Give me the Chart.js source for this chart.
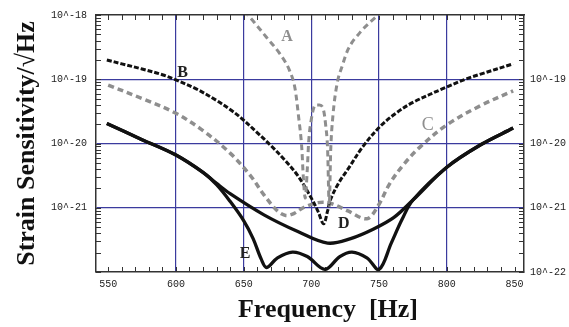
<!DOCTYPE html>
<html>
<head>
<meta charset="utf-8">
<title>Strain sensitivity vs frequency</title>
<script src="https://cdn.jsdelivr.net/npm/chart.js@4"></script>
<style>
  html, body { margin: 0; padding: 0; background: #fff; }
  canvas { display: block; }
</style>
</head>
<body>
<canvas id="sensChart" width="569" height="327"></canvas>
<script>
// curves: frequency in Hz, sensitivity as log10(strain/sqrt(Hz))
const freqA = [650, 653, 660, 667, 677, 684, 688, 690.5, 693, 694, 695.5, 697, 698, 700, 703, 706, 709, 710.5, 712, 713.2, 714.3, 716, 719, 723, 727, 736, 744, 752];
const expA  = [-17.95, -18.0, -18.17, -18.35, -18.61, -18.87, -19.15, -19.57, -20.09, -20.5, -20.85, -20.4, -19.98, -19.62, -19.4, -19.4, -19.48, -19.7, -20.09, -20.97, -20.1, -19.55, -19.07, -18.78, -18.54, -18.27, -18.1, -17.95];

const freqB = [549, 560, 575, 590, 600, 615, 630, 640, 648, 660, 670, 680, 690, 700, 705, 709, 712, 714, 720, 727, 738, 751, 763, 775, 800, 815, 825, 849];
const expB  = [-18.70, -18.76, -18.84, -18.93, -19.01, -19.15, -19.33, -19.47, -19.60, -19.83, -20.03, -20.25, -20.50, -20.85, -21.06, -21.25, -21.05, -20.88, -20.62, -20.40, -20.05, -19.73, -19.52, -19.36, -19.12, -18.99, -18.92, -18.76];

const freqC = [550, 575, 600, 620, 640, 655, 665, 675, 681, 687, 694, 705, 714, 727, 741, 749, 758, 768, 780, 800, 825, 849];
const expC  = [-19.09, -19.30, -19.53, -19.80, -20.15, -20.50, -20.80, -21.05, -21.12, -21.09, -21.00, -20.92, -20.93, -21.05, -21.17, -20.98, -20.62, -20.33, -20.06, -19.71, -19.41, -19.18];

const freqD = [549, 575, 600, 620, 630, 640, 665, 690, 712, 729, 746, 761, 775, 800, 825, 849];
const expD  = [-19.69, -19.94, -20.18, -20.45, -20.62, -20.78, -21.11, -21.37, -21.55, -21.48, -21.33, -21.15, -20.88, -20.37, -20.02, -19.76];

const freqE = [549, 575, 600, 620, 630, 640, 650, 657, 663, 667, 675, 686, 697, 710, 721, 730, 741, 750, 759, 767, 775, 800, 825, 849];
const expE  = [-19.69, -19.94, -20.18, -20.45, -20.64, -20.90, -21.20, -21.48, -21.80, -21.93, -21.78, -21.69, -21.76, -21.96, -21.76, -21.69, -21.78, -21.96, -21.55, -21.18, -20.88, -20.37, -20.02, -19.76];

const decadeExps = [-22, -21, -20, -19, -18];
const xTickValues = [550, 560, 570, 580, 590, 600, 610, 620, 630, 640, 650, 660, 670, 680, 690, 700, 710, 720, 730, 740, 750, 760, 770, 780, 790, 800, 810, 820, 830, 840, 850];
const xLabelStep = 50;

// curve letters, placed in data units
const letters = ['A', 'B', 'C', 'D', 'E'];
const letterFreq = [682, 605, 786, 724, 651];
const letterExp = [-18.34, -18.90, -19.71, -21.25, -21.71];

const BLUE = '#3b3b9e';
const GREY = '#8e8e8e';

function pts(fs, es) {
    return fs.map((f, i) => ({ x: f, y: Math.pow(10, es[i]) }));
}

function logTicks() {
    const t = [];
    for (let i = 0; i < decadeExps.length - 1; i++) {
        for (let k = 1; k < 10; k++) t.push({ value: k * Math.pow(10, decadeExps[i]) });
    }
    t.push({ value: Math.pow(10, decadeExps[decadeExps.length - 1]) });
    return t;
}

function decadeOf(v) {
    const l = Math.log10(v);
    return Math.abs(l - Math.round(l)) < 1e-6 ? Math.round(l) : null;
}

const innerTicks = {
    id: 'innerTicks',
    beforeDatasetsDraw(chart) {
        const { ctx, chartArea: a, scales } = chart;
        ctx.save();
        ctx.strokeStyle = '#333';
        ctx.lineWidth = 1;
        ctx.beginPath();
        scales.y.ticks.forEach(t => {
            const py = Math.round(scales.y.getPixelForValue(t.value)) + 0.5;
            ctx.moveTo(a.left, py); ctx.lineTo(a.left + 5, py);
            ctx.moveTo(a.right, py); ctx.lineTo(a.right - 5, py);
        });
        scales.x.ticks.forEach(t => {
            const px = Math.round(scales.x.getPixelForValue(t.value)) + 0.5;
            ctx.moveTo(px, a.bottom); ctx.lineTo(px, a.bottom - 5);
            ctx.moveTo(px, a.top); ctx.lineTo(px, a.top + 5);
        });
        ctx.stroke();
        ctx.restore();
    }
};

const textBits = {
    id: 'textBits',
    afterDatasetsDraw(chart) {
        const { ctx, scales } = chart;
        ctx.save();
        ctx.textAlign = 'center';
        ctx.textBaseline = 'middle';
        letters.forEach((s, i) => {
            const grey = s === 'A' || s === 'C';
            ctx.fillStyle = grey ? GREY : '#222';
            ctx.font = (s === 'C' ? '18px' : 'bold 16px') + ' "Liberation Serif", serif';
            ctx.fillText(s, scales.x.getPixelForValue(letterFreq[i]), scales.y.getPixelForValue(Math.pow(10, letterExp[i])));
        });
        ctx.fillStyle = '#111';
        ctx.font = 'bold 26px "Liberation Serif", serif';
        ctx.textBaseline = 'alphabetic';
        ctx.fillText('Frequency  [Hz]', 328, 317);
        ctx.restore();
    }
};

const common = { pointRadius: 0, borderWidth: 3, fill: false, tension: 0.35 };

const ctx = document.getElementById('sensChart').getContext('2d');
new Chart(ctx, {
    type: 'line',
    data: {
        datasets: [
            { ...common, label: 'A', data: pts(freqA, expA), borderColor: GREY, borderDash: [6, 4], cubicInterpolationMode: 'monotone' },
            { ...common, label: 'B', data: pts(freqB, expB), borderColor: '#111', borderDash: [5, 2] },
            { ...common, label: 'C', data: pts(freqC, expC), borderColor: GREY, borderDash: [6, 4], borderWidth: 3.5 },
            { ...common, label: 'D', data: pts(freqD, expD), borderColor: '#111', borderWidth: 3.3 },
            { ...common, label: 'E', data: pts(freqE, expE), borderColor: '#111', borderWidth: 3.3 }
        ]
    },
    options: {
        responsive: false,
        animation: false,
        layout: { padding: 0 },
        plugins: { legend: { display: false }, tooltip: { enabled: false } },
        scales: {
            x: {
                type: 'linear', min: 541, max: 857,
                afterBuildTicks: s => { s.ticks = xTickValues.map(v => ({ value: v })); },
                afterFit: s => { s.height = 55; },
                grid: {
                    drawTicks: false,
                    color: c => (c.tick && c.tick.value % xLabelStep === 0 && c.tick.value > 550 && c.tick.value < 850) ? BLUE : 'rgba(0,0,0,0)',
                    lineWidth: 1.2
                },
                border: { display: true, color: '#333', width: 1.5 },
                ticks: {
                    autoSkip: false, maxRotation: 0, padding: 6,
                    color: '#222', font: { family: '"Liberation Mono", monospace', size: 10 },
                    callback: v => (v % xLabelStep === 0 ? String(v) : '')
                }
            },
            xt: {
                type: 'linear', position: 'top', min: 541, max: 857,
                afterFit: s => { s.height = 10; },
                grid: { drawOnChartArea: false, drawTicks: false },
                border: { display: true, color: '#333', width: 1.5 },
                ticks: { display: false }
            },
            y: {
                type: 'logarithmic', position: 'left', min: 1e-22, max: 1e-18,
                afterBuildTicks: s => { s.ticks = logTicks(); },
                afterFit: s => { s.width = 96; },
                grid: {
                    drawTicks: false,
                    color: c => {
                        const d = c.tick ? decadeOf(c.tick.value) : null;
                        return d !== null && d > -22 && d < -18 ? BLUE : 'rgba(0,0,0,0)';
                    },
                    lineWidth: 1.2
                },
                border: { display: true, color: '#333', width: 1.5 },
                ticks: {
                    autoSkip: false, padding: 9,
                    color: '#222', font: { family: '"Liberation Mono", monospace', size: 10 },
                    callback: v => {
                        const d = decadeOf(v);
                        return d !== null && d > -22 ? '10^' + d : '';
                    }
                },
                title: {
                    display: true, text: 'Strain Sensitivity/\u221AHz', color: '#111',
                    font: { family: '"Liberation Serif", serif', size: 26, weight: 'bold' },
                    padding: { top: 12, bottom: 0 }
                }
            },
            y2: {
                type: 'logarithmic', position: 'right', min: 1e-22, max: 1e-18,
                afterBuildTicks: s => { s.ticks = logTicks(); },
                afterFit: s => { s.width = 45; },
                grid: { drawOnChartArea: false, drawTicks: false },
                border: { display: true, color: '#333', width: 1.5 },
                ticks: {
                    autoSkip: false, padding: 6,
                    color: '#222', font: { family: '"Liberation Mono", monospace', size: 10 },
                    callback: v => {
                        const d = decadeOf(v);
                        return d !== null && d < -18 ? '10^' + d : '';
                    }
                }
            }
        }
    },
    plugins: [innerTicks, textBits]
});
</script>
</body>
</html>
